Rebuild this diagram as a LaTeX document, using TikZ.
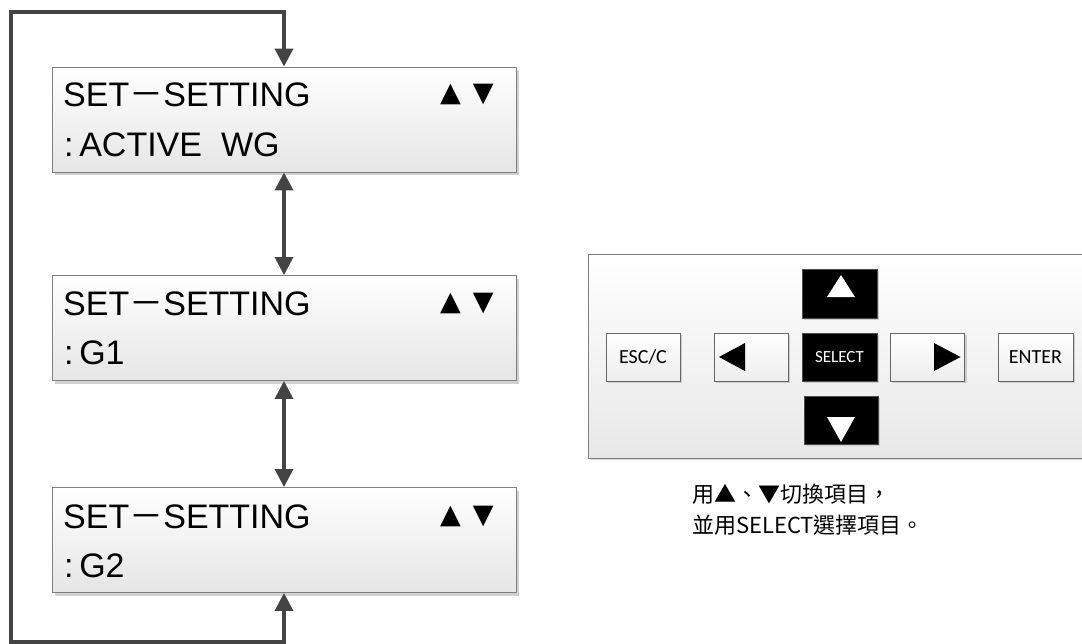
\documentclass[tikz,border=0pt]{standalone}
\usepackage{fontspec}
\setmainfont{Liberation Sans}
\newfontfamily\cjk{Noto Sans CJK TC}
\newfontfamily\calib{Carlito}
\newfontfamily\dejavu{DejaVu Sans}
\usetikzlibrary{arrows.meta,shadows}
\definecolor{lineg}{HTML}{444444}
\definecolor{bord}{HTML}{7F7F7F}
\begin{document}
\begin{tikzpicture}[x=1pt,y=-1pt,
  lcd/.style={draw=bord, line width=0.9pt, top color=white, bottom color=black!10,
    minimum width=464pt, minimum height=105pt, inner sep=0pt,
    drop shadow={shadow xshift=3pt, shadow yshift=-3pt, fill=black!18, opacity=1}},
  lcdtxt/.style={anchor=base west, inner sep=0pt, font=\fontsize{34}{40}\selectfont},
  tri/.style={anchor=base west, inner sep=0pt, font=\dejavu\fontsize{27}{30}\selectfont},
  conn/.style={draw=lineg, line width=3.5pt, {Triangle[width=18pt,length=18pt]}-{Triangle[width=18pt,length=18pt]}},
  panelbox/.style={draw=bord, line width=0.9pt, top color=white, bottom color=black!9,
    minimum width=495pt, minimum height=204pt, inner sep=0pt,
    drop shadow={shadow xshift=2pt, shadow yshift=-2pt, fill=black!15, opacity=1}},
  lightbtn/.style={draw=black!60, line width=0.8pt, top color=white, bottom color=black!7,
    minimum width=74pt, minimum height=48pt, inner sep=0pt, font=\calib\fontsize{20}{24}\selectfont,
    drop shadow={shadow xshift=2pt, shadow yshift=-2pt, fill=black!20, opacity=1}},
  darkbtn/.style={draw=black!70, fill=black, line width=0.8pt,
    minimum width=75pt, minimum height=48pt, inner sep=0pt, text=white, font=\calib\fontsize{17}{20}\selectfont,
    drop shadow={shadow xshift=2pt, shadow yshift=-2pt, fill=black!20, opacity=1}},
  note/.style={anchor=base west, inner sep=0pt, font=\cjk\fontsize{22}{25}\selectfont}
]
\useasboundingbox (0,0) rectangle (1082,643);

% LCD boxes
\node[lcd] (b1) at (284,119.5) {};
\node[lcd] (b2) at (284,328) {};
\node[lcd] (b3) at (284,540) {};

\node[lcdtxt] (b1l1) at (63,106) {SET{\cjk －}SETTING};
\node[lcdtxt] (b1l2) at (64,156) {:\,ACTIVE\ \ WG};
\node[tri] (b1t) at (440,101) {▲\hspace{12pt}▼};

\node[lcdtxt] (b2l1) at (63,315) {SET{\cjk －}SETTING};
\node[lcdtxt] (b2l2) at (64,364) {:\,G1};
\node[tri] (b2t) at (440,310) {▲\hspace{12pt}▼};

\node[lcdtxt] (b3l1) at (63,528) {SET{\cjk －}SETTING};
\node[lcdtxt] (b3l2) at (64,577) {:\,G2};
\node[tri] (b3t) at (440,523) {▲\hspace{12pt}▼};

% connectors
\coordinate (cbl) at (11,642);
\coordinate (ctl) at (11,12);
\path[conn] (b1.south) -- (b2.north);
\path[conn] (b2.south) -- (b3.north);
\path[conn, line join=miter] (b3.south) |- (cbl) -- (ctl) -| (b1.north);

% keypad panel
\node[panelbox] (panel) at (836,356) {};
\node[lightbtn] (esc) at (643,357) {ESC/C};
\node[lightbtn] (left) at (751,357) {};
\node[darkbtn] (sel) at (839.5,357) {SELECT};
\node[lightbtn] (right) at (927.5,357) {};
\node[lightbtn, minimum width=75pt] (enter) at (1035.5,357) {ENTER};
\node[darkbtn, minimum height=49pt] (up) at (839.5,293.5) {};
\node[darkbtn, minimum width=74pt] (down) at (841,420) {};

\fill[white] ([shift={(1.5,-18.5)}]up.center) -- ([shift={(-12.5,3.5)}]up.center) -- ([shift={(15.5,3.5)}]up.center) -- cycle;
\fill[white] ([shift={(0,22)}]down.center) -- ([shift={(-14,-3)}]down.center) -- ([shift={(14,-3)}]down.center) -- cycle;
\fill[black] ([shift={(-32,0)}]left.center) -- ([shift={(-6,-14)}]left.center) -- ([shift={(-6,14)}]left.center) -- cycle;
\fill[black] ([shift={(33,0)}]right.center) -- ([shift={(6.5,-14)}]right.center) -- ([shift={(6.5,14)}]right.center) -- cycle;

% note
\node[note] (n1) at (692,502) {用▲、▼切換項目，};
\node[note] (n2) at (692,533) {並用SELECT選擇項目。};
\end{tikzpicture}
\end{document}
